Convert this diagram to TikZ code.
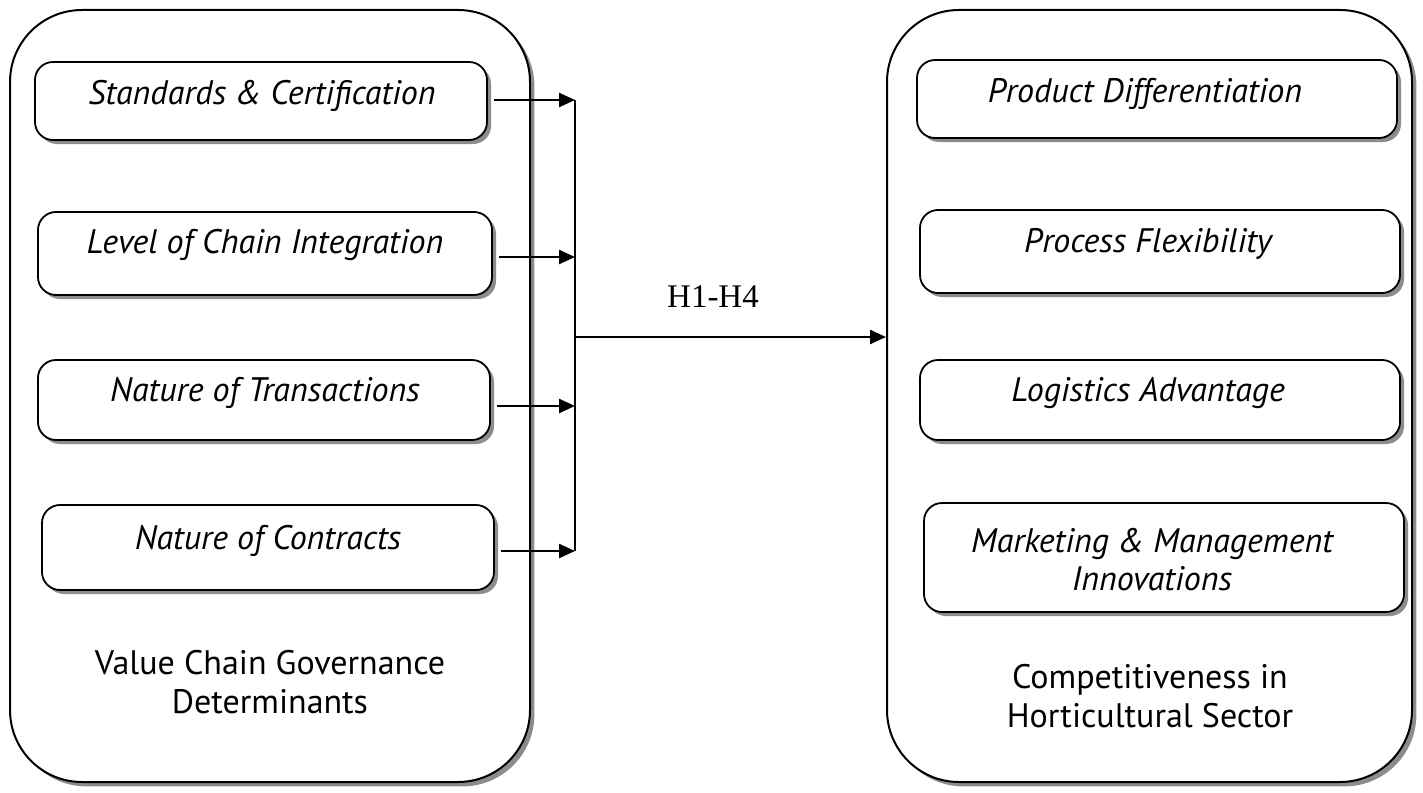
\documentclass[tikz,border=0pt]{standalone}
\usepackage{fontspec}
\setmainfont{PT Sans}
\newfontfamily\hfont{Liberation Serif}
\usetikzlibrary{arrows.meta,shadows}

\tikzset{
  outerbox/.style={draw=black, line width=1pt, fill=white, rounded corners=36pt,
    drop shadow={shadow xshift=2.2pt, shadow yshift=-2.2pt, fill=black!45, opacity=1}},
  innerbox/.style={draw=black, line width=0.9pt, fill=white, rounded corners=9pt,
    drop shadow={shadow xshift=2pt, shadow yshift=-2pt, fill=black!45, opacity=1}},
  itemtext/.style={font=\itshape\fontsize{17}{19}\selectfont, align=center, inner sep=0pt},
  grouptext/.style={font=\fontsize{17}{19.5}\selectfont, align=center, inner sep=0pt},
  link/.style={line width=1.2pt, -{Triangle[length=8pt,width=7pt]}},
  bus/.style={line width=1.2pt}
}

\begin{document}
\begin{tikzpicture}[x=0.5pt, y=-0.5pt]
  \useasboundingbox (0,0) rectangle (1423,792);

  % outer groups
  \node[outerbox, minimum width=260pt, minimum height=386pt] (left) at (270,396) {};
  \node[outerbox, minimum width=262.5pt, minimum height=386pt] (right) at (1149.5,396) {};

  % governance determinants
  \node[innerbox, minimum width=226pt, minimum height=39pt] (l1) at (261,101) {};
  \node[innerbox, minimum width=227pt, minimum height=41.5pt] (l2) at (265,253.5) {};
  \node[innerbox, minimum width=226pt, minimum height=40pt] (l3) at (264,400) {};
  \node[innerbox, minimum width=226pt, minimum height=42.5pt] (l4) at (268,547.5) {};

  \node[itemtext] (t1) at (262,96) {Standards \& Certification};
  \node[itemtext] (t2) at (265,245) {Level of Chain Integration};
  \node[itemtext] (t3) at (265,393) {Nature of Transactions};
  \node[itemtext] (t4) at (268,541) {Nature of Contracts};

  \node[grouptext] (lt) at (270,682) {Value Chain Governance\\Determinants};

  % competitiveness dimensions
  \node[innerbox, minimum width=240pt, minimum height=39pt] (r1) at (1157,99) {};
  \node[innerbox, minimum width=240pt, minimum height=41.5pt] (r2) at (1160,251.5) {};
  \node[innerbox, minimum width=240pt, minimum height=40pt] (r3) at (1160,400) {};
  \node[innerbox, minimum width=240pt, minimum height=54.5pt] (r4) at (1164,557.5) {};

  \node[itemtext] (s1) at (1145,94) {Product Differentiation};
  \node[itemtext] (s2) at (1148,244) {Process Flexibility};
  \node[itemtext] (s3) at (1148,393) {Logistics Advantage};
  \node[itemtext] (s4) at (1152,560) {Marketing \& Management\\Innovations};

  \node[grouptext] (rt) at (1150,696) {Competitiveness in\\Horticultural Sector};

  % connectors
  \coordinate (bt) at (575,100);
  \coordinate (bb) at (575,551);
  \coordinate (bm) at (575,337);
  \draw[bus] (bt) -- (bb);
  \draw[link] (l1.east |- bt) ++(6,0) -- (bt);
  \draw[link] (l2.east |- 0,257) ++(6,0) -- (575,257);
  \draw[link] (l3.east |- 0,406) ++(6,0) -- (575,406);
  \draw[link] (l4.east |- bb) ++(6,0) -- (bb);
  \draw[link] (bm) -- (right.west |- bm);

  \node[font=\hfont\fontsize{16.5}{19}\selectfont, inner sep=0pt] (h) at (713,297) {H1-H4};
\end{tikzpicture}
\end{document}
